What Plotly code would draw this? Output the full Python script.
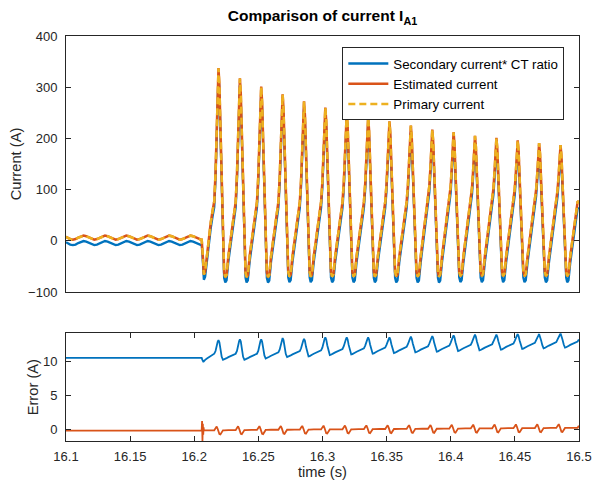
import numpy as np
import plotly.graph_objects as go

# ---------------- data ----------------
# Steady state before energisation: primary current samples (A)
pre_first_time = 16.1
pre_first_value = 7.7
pre_grid_start = 16.1012          # s, first grid sample
pre_grid_step = 1 / 480           # s between samples
pre_primary = [6.0, 3.2, 2.0, 3.2, 6.0, 8.8, 10.0, 8.8,
               6.0, 3.2, 2.0, 3.2, 6.0, 8.8, 10.0, 8.8,
               6.0, 3.2, 2.0, 3.2, 6.0, 8.8, 10.0, 8.8,
               6.0, 3.2, 2.0, 3.2, 6.0, 8.8, 10.0, 8.8,
               6.0, 3.2, 2.0, 3.2, 6.0, 8.8, 10.0, 8.8,
               6.0, 3.2, 2.0, 3.2, 6.0, 8.8, 10.0, 8.8,
               6.0, 3.2, 2.0]
prefault_err_sec = 10.5   # A  (primary - secondary*CT ratio)
prefault_err_est = -0.2   # A  (primary - estimated)

# Switching instant
trans_times = [16.2058, 16.2061, 16.2064, 16.2067, 16.2070, 16.2073]
trans_primary = [2.0, -4.0, -16.0, -30.0, -44.0, -56.0]
trans_err_sec = [10.5, 10.3, 10.1, 10.0, 9.95, 9.95]
trans_err_est = [-0.2, 1.2, -1.7, 0.8, -0.8, 0.3]

# Inrush: samples at fixed offsets (ms) around each current peak
peak_times = [16.2189, 16.2356, 16.2522, 16.2689, 16.2856, 16.3022, 16.3189,
              16.3356, 16.3522, 16.3689, 16.3856, 16.4022, 16.4189, 16.4356,
              16.4522, 16.4689, 16.4856, 16.5022]
sample_offsets_ms = [-11.4, -10.4, -9.0, -7.5, -6.0, -4.5, -3.3, -2.3,
                     -1.4, -0.6, 0.0, 0.7, 1.5, 2.5, 3.5, 4.4]

primary_cycles = [
    [-66, -60, -26, 4, 36, 60, 77, 133, 206, 298, 337, 304, 227, 125, 27, -62],
    [-71, -67, -30, 0, 33, 58, 76, 129, 196, 281, 317, 286, 212, 115, 22, -62],
    [-71, -67, -30, 0, 33, 58, 76, 125, 188, 267, 301, 271, 201, 108, 18, -62],
    [-71, -67, -30, 0, 33, 58, 76, 122, 181, 254, 286, 257, 190, 100, 15, -61],
    [-70, -66, -30, 0, 33, 58, 76, 119, 174, 243, 272, 245, 180, 94, 12, -61],
    [-70, -66, -30, 0, 33, 58, 76, 116, 168, 232, 260, 234, 171, 88, 9, -61],
    [-70, -66, -30, 0, 33, 58, 76, 114, 163, 224, 250, 224, 164, 84, 7, -61],
    [-70, -66, -30, 0, 33, 58, 76, 112, 158, 216, 241, 216, 157, 79, 5, -61],
    [-70, -66, -30, 0, 33, 58, 76, 110, 154, 209, 233, 209, 151, 75, 3, -61],
    [-70, -66, -30, 0, 33, 58, 76, 109, 150, 203, 225, 201, 145, 72, 1, -61],
    [-70, -66, -30, 0, 33, 58, 76, 107, 146, 196, 217, 194, 139, 68, -1, -61],
    [-70, -66, -30, 0, 33, 58, 76, 106, 144, 192, 212, 189, 136, 65, -2, -60],
    [-69, -65, -30, 0, 33, 58, 76, 104, 140, 186, 205, 183, 131, 62, -3, -60],
    [-69, -65, -30, 0, 33, 58, 76, 103, 138, 182, 201, 179, 128, 61, -4, -60],
    [-69, -65, -30, 0, 33, 58, 76, 102, 136, 178, 196, 175, 124, 58, -5, -60],
    [-69, -65, -30, 0, 33, 58, 76, 101, 133, 174, 191, 170, 121, 56, -7, -60],
    [-69, -65, -30, 0, 33, 58, 76, 100, 131, 170, 187, 166, 118, 54, -8, -60],
    [-69, -65, -30, 0, 33, 58, 76, 78],
]

err_sec_cycles = [
    [10.0, 10.2, 10.4, 10.6, 10.8, 10.95, 11.1, 11.5, 12.35, 12.9, 13.1, 12.8, 11.85, 10.65, 10.2, 10.25],
    [10.3, 10.45, 10.6, 10.75, 10.9, 11.0, 11.1, 11.5, 12.4, 12.95, 13.2, 12.9, 11.9, 10.65, 10.2, 10.25],
    [10.3, 10.45, 10.6, 10.75, 10.9, 11.0, 11.1, 11.5, 12.4, 12.95, 13.2, 12.9, 12.0, 10.85, 10.4, 10.45],
    [10.5, 10.65, 10.8, 10.95, 11.1, 11.2, 11.3, 11.7, 12.6, 13.15, 13.4, 13.1, 12.2, 11.05, 10.6, 10.65],
    [10.7, 10.85, 11.0, 11.15, 11.3, 11.4, 11.5, 11.9, 12.65, 13.05, 13.3, 13.0, 12.15, 11.15, 10.7, 10.75],
    [10.8, 10.95, 11.1, 11.25, 11.4, 11.5, 11.6, 12.0, 12.8, 13.25, 13.5, 13.2, 12.35, 11.35, 10.9, 10.95],
    [11.0, 11.15, 11.3, 11.45, 11.6, 11.7, 11.8, 12.2, 12.9, 13.25, 13.5, 13.2, 12.4, 11.45, 11.0, 11.05],
    [11.1, 11.25, 11.4, 11.55, 11.7, 11.8, 11.9, 12.3, 12.95, 13.25, 13.5, 13.2, 12.45, 11.55, 11.1, 11.15],
    [11.2, 11.35, 11.5, 11.65, 11.8, 11.9, 12.0, 12.4, 13.0, 13.25, 13.5, 13.2, 12.5, 11.65, 11.2, 11.25],
    [11.3, 11.45, 11.6, 11.75, 11.9, 12.0, 12.1, 12.5, 13.1, 13.35, 13.6, 13.3, 12.6, 11.75, 11.3, 11.35],
    [11.4, 11.55, 11.7, 11.85, 12.0, 12.1, 12.2, 12.6, 13.2, 13.45, 13.7, 13.4, 12.7, 11.85, 11.4, 11.45],
    [11.5, 11.65, 11.8, 11.95, 12.1, 12.2, 12.3, 12.7, 13.3, 13.55, 13.8, 13.5, 12.8, 11.95, 11.5, 11.55],
    [11.6, 11.75, 11.9, 12.05, 12.2, 12.3, 12.4, 12.8, 13.4, 13.65, 13.9, 13.6, 12.9, 12.05, 11.6, 11.65],
    [11.7, 11.85, 12.0, 12.15, 12.3, 12.4, 12.5, 12.9, 13.45, 13.65, 13.9, 13.6, 12.95, 12.15, 11.7, 11.75],
    [11.8, 11.95, 12.1, 12.25, 12.4, 12.5, 12.6, 13.0, 13.55, 13.75, 14.0, 13.7, 13.05, 12.25, 11.8, 11.85],
    [11.9, 12.05, 12.2, 12.35, 12.5, 12.6, 12.7, 13.1, 13.6, 13.75, 14.0, 13.7, 13.1, 12.35, 11.9, 11.95],
    [12.0, 12.15, 12.3, 12.45, 12.6, 12.7, 12.8, 13.2, 13.7, 13.85, 14.1, 13.8, 13.2, 12.45, 12.0, 12.05],
    [12.1, 12.25, 12.4, 12.55, 12.7, 12.8, 12.9, 13.2],
]

err_est_cycles = [
    [-0.15, -0.15, -0.15, -0.15, -0.15, -0.15, -0.15, 0.15, 0.40, 0.05, -0.35, -0.70, -0.75, -0.35, -0.15, -0.15],
    [-0.12, -0.12, -0.12, -0.12, -0.12, -0.12, -0.12, 0.18, 0.43, 0.08, -0.32, -0.67, -0.72, -0.32, -0.12, -0.12],
    [-0.10, -0.10, -0.10, -0.10, -0.10, -0.10, -0.10, 0.20, 0.45, 0.10, -0.30, -0.65, -0.70, -0.30, -0.10, -0.10],
    [-0.07, -0.07, -0.07, -0.07, -0.07, -0.07, -0.07, 0.23, 0.48, 0.13, -0.27, -0.62, -0.67, -0.27, -0.07, -0.07],
    [-0.05, -0.05, -0.05, -0.05, -0.05, -0.05, -0.05, 0.25, 0.50, 0.15, -0.25, -0.60, -0.65, -0.25, -0.05, -0.05],
    [-0.02, -0.02, -0.02, -0.02, -0.02, -0.02, -0.02, 0.28, 0.53, 0.18, -0.22, -0.57, -0.62, -0.22, -0.02, -0.02],
    [0.00, 0.00, 0.00, 0.00, 0.00, 0.00, 0.00, 0.30, 0.55, 0.20, -0.20, -0.55, -0.60, -0.20, 0.00, 0.00],
    [0.02, 0.02, 0.02, 0.02, 0.02, 0.02, 0.02, 0.32, 0.57, 0.22, -0.18, -0.53, -0.58, -0.18, 0.02, 0.02],
    [0.04, 0.04, 0.04, 0.04, 0.04, 0.04, 0.04, 0.34, 0.59, 0.24, -0.16, -0.51, -0.56, -0.16, 0.04, 0.04],
    [0.06, 0.06, 0.06, 0.06, 0.06, 0.06, 0.06, 0.36, 0.61, 0.26, -0.14, -0.49, -0.54, -0.14, 0.06, 0.06],
    [0.08, 0.08, 0.08, 0.08, 0.08, 0.08, 0.08, 0.38, 0.63, 0.28, -0.12, -0.47, -0.52, -0.12, 0.08, 0.08],
    [0.10, 0.10, 0.10, 0.10, 0.10, 0.10, 0.10, 0.40, 0.65, 0.30, -0.10, -0.45, -0.50, -0.10, 0.10, 0.10],
    [0.12, 0.12, 0.12, 0.12, 0.12, 0.12, 0.12, 0.42, 0.67, 0.32, -0.08, -0.43, -0.48, -0.08, 0.12, 0.12],
    [0.14, 0.14, 0.14, 0.14, 0.14, 0.14, 0.14, 0.44, 0.69, 0.34, -0.06, -0.41, -0.46, -0.06, 0.14, 0.14],
    [0.16, 0.16, 0.16, 0.16, 0.16, 0.16, 0.16, 0.46, 0.71, 0.36, -0.04, -0.39, -0.44, -0.04, 0.16, 0.16],
    [0.18, 0.18, 0.18, 0.18, 0.18, 0.18, 0.18, 0.48, 0.73, 0.38, -0.02, -0.37, -0.42, -0.02, 0.18, 0.18],
    [0.20, 0.20, 0.20, 0.20, 0.20, 0.20, 0.20, 0.50, 0.75, 0.40, 0.00, -0.35, -0.40, 0.00, 0.20, 0.20],
    [0.22, 0.22, 0.22, 0.22, 0.22, 0.22, 0.22, 0.52],
]

x_ticks = [16.1, 16.15, 16.2, 16.25, 16.3, 16.35, 16.4, 16.45, 16.5]
x_tick_text = ["16.1", "16.15", "16.2", "16.25", "16.3", "16.35", "16.4", "16.45", "16.5"]
y1_ticks = [-100, 0, 100, 200, 300, 400]
y2_ticks = [0, 5, 10]

# ---------------- assemble series ----------------
t = [pre_first_time] + [pre_grid_start + j * pre_grid_step for j in range(len(pre_primary))]
primary = [pre_first_value] + list(pre_primary)
err_sec = [prefault_err_sec] * len(primary)
err_est = [prefault_err_est] * len(primary)

t += trans_times
primary += trans_primary
err_sec += trans_err_sec
err_est += trans_err_est

for k, row in enumerate(primary_cycles):
    for j, v in enumerate(row):
        t.append(peak_times[k] + sample_offsets_ms[j] / 1000.0)
        primary.append(v)
        err_sec.append(err_sec_cycles[k][j])
        err_est.append(err_est_cycles[k][j])

t = np.array(t)
primary = np.array(primary, dtype=float)
err_sec = np.array(err_sec)
err_est = np.array(err_est)
secondary = primary - err_sec
estimated = primary - err_est

# ---------------- figure ----------------
BLUE = "#0072BD"
ORANGE = "#D95319"
YELLOW = "#EDB120"
AX = "#262626"
FONT = "Liberation Sans, Arial, Helvetica, sans-serif"

fig = go.Figure()
fig.add_trace(go.Scatter(x=t, y=secondary, mode="lines", name="Secondary current* CT ratio",
                         line=dict(color=BLUE, width=2.3), xaxis="x", yaxis="y"))
fig.add_trace(go.Scatter(x=t, y=estimated, mode="lines", name="Estimated current",
                         line=dict(color=ORANGE, width=2.5), xaxis="x", yaxis="y"))
fig.add_trace(go.Scatter(x=t, y=primary, mode="lines", name="Primary current",
                         line=dict(color=YELLOW, width=2.5, dash="7px,4px"), xaxis="x", yaxis="y"))
fig.add_trace(go.Scatter(x=t, y=err_sec, mode="lines", showlegend=False,
                         line=dict(color=BLUE, width=1.8), xaxis="x2", yaxis="y2"))
fig.add_trace(go.Scatter(x=t, y=err_est, mode="lines", showlegend=False,
                         line=dict(color=ORANGE, width=1.8), xaxis="x2", yaxis="y2"))

axis_common = dict(showline=True, linecolor=AX, linewidth=1, mirror="allticks",
                   showgrid=False, zeroline=False, ticks="inside", ticklen=5,
                   tickcolor=AX, tickwidth=1, automargin=False,
                   tickfont=dict(family=FONT, size=13, color=AX))

fig.update_layout(
    width=592, height=483,
    margin=dict(l=66, r=13, t=36, b=42, autoexpand=False),
    paper_bgcolor="white", plot_bgcolor="white",
    font=dict(family=FONT, color=AX),
    title=dict(text="<b>Comparison of current I<sub>A1</sub></b>",
               x=0.5, xref="paper", xanchor="center",
               y=1 - 16 / 483, yref="container", yanchor="middle",
               font=dict(family=FONT, size=15.5, color="black")),
    xaxis=dict(axis_common, domain=[0, 1], anchor="y", range=[16.1, 16.5],
               showticklabels=False, ticks="", mirror=True),
    yaxis=dict(axis_common, domain=[0.3679, 1], anchor="x", range=[-100, 400],
               tickvals=y1_ticks, ticklabelstandoff=5,
               title=dict(text="Current (A)", standoff=2,
                          font=dict(family=FONT, size=14.7, color=AX))),
    xaxis2=dict(axis_common, domain=[0, 1], anchor="y2", range=[16.1, 16.5],
                tickvals=x_ticks, ticktext=x_tick_text, ticklabelstandoff=3,
                title=dict(text="time (s)", standoff=4,
                           font=dict(family=FONT, size=14.7, color=AX))),
    yaxis2=dict(axis_common, domain=[0, 0.2659], anchor="x2", range=[-1.72, 14.1],
                tickvals=y2_ticks, ticklabelstandoff=5,
                title=dict(text="Error (A)", standoff=0,
                           font=dict(family=FONT, size=14.7, color=AX))),
    legend=dict(x=0.9714, xanchor="right", y=0.972, yanchor="top",
                bgcolor="white", bordercolor=AX, borderwidth=1,
                font=dict(family=FONT, size=13.3, color="black"),
                tracegroupgap=0, itemwidth=40),
    showlegend=True,
)

fig.write_html("out.html")
